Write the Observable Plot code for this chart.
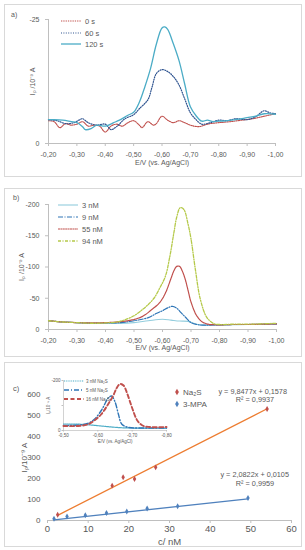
<!DOCTYPE html>
<html><head><meta charset="utf-8">
<script src="https://cdn.jsdelivr.net/npm/d3@7"></script>
<script src="https://cdn.jsdelivr.net/npm/@observablehq/plot@0.6"></script>
<style>
body{margin:0;background:#fff;}
#root{position:relative;width:305px;height:550px;overflow:hidden;font-family:"Liberation Sans",Arial,sans-serif;}
.frame{position:absolute;border:1px solid #d9d9d9;box-sizing:border-box;}
</style></head><body><div id="root"></div>
<script>
// ---------- Panel a data (I in 10^-9 A, E in V) ----------
const aTicksX = [-0.2,-0.3,-0.4,-0.5,-0.6,-0.7,-0.8,-0.9,-1.0];
const aTicksY = [-25, 0];
const aNames = ["0 s", "60 s", "120 s"];
const aE0 = [-0.20,-0.22,-0.24,-0.26,-0.28,-0.30,-0.32,-0.34,-0.36,-0.38,-0.40,-0.42,-0.44,-0.46,-0.48,-0.50,-0.52,-0.53,-0.55,-0.57,-0.58,-0.60,-0.62,-0.64,-0.66,-0.68,-0.70,-0.73,-0.76,-0.80,-0.84,-0.88,-0.92,-0.96,-1.00];
const aI0 = [-4.6,-4.4,-3.2,-4.0,-3.7,-3.9,-4.4,-3.5,-3.7,-3.5,-2.3,-3.5,-3.9,-3.5,-4.2,-4.6,-3.7,-3.2,-4.4,-3.7,-4.0,-5.5,-4.7,-4.2,-4.6,-4.2,-3.7,-3.4,-3.9,-4.2,-4.4,-4.7,-5.0,-5.5,-6.0];
const aE60 = [-0.20,-0.23,-0.26,-0.29,-0.31,-0.32,-0.34,-0.37,-0.40,-0.42,-0.44,-0.47,-0.50,-0.52,-0.55,-0.565,-0.58,-0.60,-0.62,-0.64,-0.66,-0.68,-0.70,-0.72,-0.74,-0.77,-0.80,-0.83,-0.86,-0.90,-0.93,-0.96,-0.98,-1.00];
const aI60 = [-4.8,-4.6,-4.0,-4.2,-4.8,-5.0,-4.2,-3.7,-3.9,-2.8,-3.4,-5.0,-5.8,-7.0,-8.8,-11.4,-14.1,-14.9,-14.5,-13.5,-11.8,-9.0,-6.2,-4.8,-3.9,-4.2,-4.7,-4.6,-5.0,-4.8,-5.4,-6.6,-6.2,-6.0];
const aE120 = [-0.20,-0.22,-0.25,-0.28,-0.30,-0.32,-0.33,-0.35,-0.37,-0.40,-0.43,-0.45,-0.48,-0.50,-0.52,-0.54,-0.56,-0.58,-0.60,-0.61,-0.62,-0.64,-0.66,-0.68,-0.70,-0.72,-0.74,-0.76,-0.78,-0.80,-0.83,-0.86,-0.90,-0.93,-0.96,-1.00];
const aI120 = [-4.8,-4.8,-4.7,-4.4,-4.2,-3.4,-2.8,-3.0,-3.7,-3.5,-4.2,-4.7,-5.7,-6.3,-8.3,-11.5,-15.2,-20.0,-23.3,-23.5,-23.0,-20.1,-16.7,-12.0,-7.4,-5.6,-4.5,-4.7,-4.4,-4.5,-4.6,-4.8,-5.2,-5.5,-6.0,-5.9];

// ---------- Panel b data ----------
const bTicksY = [-200,-150,-100,-50,0];
const bNames = ["3 nM", "9 nM", "55 nM", "94 nM"];
const b3E = [-0.20,-0.25,-0.30,-0.35,-0.40,-0.45,-0.50,-0.55,-0.60,-0.63,-0.66,-0.69,-0.71,-0.73,-0.75,-0.80,-0.85,-0.90,-0.95,-1.00];
const b3I = [-14,-12,-11,-10,-10,-9.8,-11,-14,-16.5,-15,-13.5,-13,-10,-7.5,-7,-7,-7.5,-8,-8,-8.5];
const b9E = [-0.20,-0.25,-0.30,-0.35,-0.40,-0.45,-0.50,-0.55,-0.58,-0.60,-0.62,-0.635,-0.65,-0.665,-0.68,-0.70,-0.72,-0.74,-0.80,-0.85,-0.90,-0.95,-1.00];
const b9I = [-14,-12,-11,-10,-10.5,-11,-14,-19,-26,-30,-35,-37,-34,-27,-20,-11,-8,-7,-7.5,-8,-8,-8.5,-9];
const b55E = [-0.20,-0.25,-0.30,-0.35,-0.40,-0.45,-0.50,-0.53,-0.56,-0.59,-0.61,-0.63,-0.64,-0.65,-0.66,-0.67,-0.68,-0.69,-0.70,-0.72,-0.74,-0.76,-0.80,-0.85,-0.90,-0.95,-1.00];
const b55I = [-14,-12,-11,-10.5,-11,-12.5,-16,-21,-31,-43,-58,-82,-94,-101,-101,-93,-80,-62,-44,-22,-12,-8.5,-7.5,-8,-8,-8.5,-9];
const b94E = [-0.20,-0.25,-0.30,-0.35,-0.40,-0.45,-0.50,-0.53,-0.55,-0.57,-0.59,-0.61,-0.625,-0.64,-0.65,-0.6625,-0.675,-0.69,-0.70,-0.715,-0.733,-0.756,-0.78,-0.80,-0.85,-0.90,-0.95,-1.00];
const b94I = [-14,-12,-11,-10,-10.5,-13,-22,-32,-40,-50,-66,-85,-115,-155,-180,-195,-192,-168,-145,-97,-48,-19,-9.5,-8,-8.5,-8.5,-9,-10];

// ---------- Panel c data ----------
const cTicksX = [0,10,20,30,40,50,60];
const cTicksY = [0,100,200,300,400,500,600];
const naX = [2.5, 15.9, 18.6, 21.4, 26.6, 54.0];
const naY = [27, 166, 206, 198, 253, 531];
const mpaX = [1.6, 4.8, 9.3, 14.5, 19.5, 24.5, 32.0, 49.3];
const mpaY = [8, 19, 25, 36, 43, 57, 68, 107];
const naFit = [9.8477, 0.1578];
const mpaFit = [2.0822, 0.0105];
const naEq = ["y = 9,8477x + 0,1578", "R² = 0,9937"];
const mpaEq = ["y = 2,0822x + 0,0105", "R² = 0,9959"];
const cNames = ["Na₂S", "3-MPA"];

// inset
const iTicksX = [-0.5,-0.6,-0.7,-0.8];
const iTicksY = [-200, -100, 0];
const iNames = ["3 nM Na₂S", "5 nM Na₂S", "16 nM Na₂S"];
const i3E = [-0.50,-0.55,-0.58,-0.61,-0.64,-0.67,-0.70,-0.75,-0.80];
const i3I = [-26,-25,-22,-18,-14,-11,-10,-9,-9];
const i5E = [-0.50,-0.54,-0.57,-0.59,-0.61,-0.62,-0.63,-0.64,-0.65,-0.66,-0.67,-0.69,-0.72,-0.80];
const i5I = [-20,-21,-28,-45,-80,-105,-130,-138,-115,-65,-25,-12,-10,-10];
const i16E = [-0.50,-0.54,-0.57,-0.59,-0.61,-0.63,-0.645,-0.655,-0.665,-0.675,-0.685,-0.70,-0.715,-0.73,-0.75,-0.80];
const i16I = [-18,-18,-24,-40,-65,-105,-140,-170,-186,-180,-150,-90,-40,-20,-14,-14];

// ---------- helpers ----------
const FONT = '"Liberation Sans", Arial, sans-serif';
const AX = "#bfbfbf";
const TXT = "#595959";
const rows = (E, I) => E.map((e, i) => ({E: e, I: I[i]}));
const fmtE = d => d.toFixed(2).replace(".", ",");
const fmtI = d => String(d);
const root = document.getElementById("root");

function frame(top, bottom) {
  const d = document.createElement("div");
  d.className = "frame";
  d.style.left = "4px"; d.style.width = "298px";
  d.style.top = top + "px"; d.style.height = (bottom - top) + "px";
  root.appendChild(d);
}
function place(svg, top) {
  svg.style.position = "absolute";
  svg.style.left = "0px";
  svg.style.top = top + "px";
  root.appendChild(svg);
  return d3.select(svg);
}
function legend(sel, items, x0, x1, tx, ys, fs) {
  const g = sel.append("g").attr("font-size", fs).attr("fill", TXT).attr("font-family", FONT).attr("text-anchor", "start");
  items.forEach((it, i) => {
    g.append("line").attr("x1", x0).attr("x2", x1).attr("y1", ys[i]).attr("y2", ys[i])
      .attr("stroke", it.color).attr("stroke-width", it.w).attr("stroke-dasharray", it.dash || null);
    g.append("text").attr("x", tx).attr("y", ys[i]).attr("dy", "0.35em").attr("text-anchor", "start").text(it.label);
  });
}
function label(sel, x, y, t, fs, anchor) {
  sel.append("text").attr("x", x).attr("y", y).attr("dy", "0.35em").attr("font-size", fs)
    .attr("font-family", FONT).attr("fill", TXT).attr("text-anchor", anchor || "start").text(t);
}

// ---------- Panel a ----------
const aTop = 4, aBot = 177;
frame(aTop, aBot);
const aSty = [
  {color: "#c0504d", w: 1.1, dash: "1.3,1"},
  {color: "#2f5490", w: 1.2, dash: "1,1.4"},
  {color: "#4bacc6", w: 1.3, dash: null}
];
const plotA = Plot.plot({
  width: 305, height: aBot - aTop,
  marginLeft: 48, marginRight: 30, marginTop: 15, marginBottom: 34,
  style: {fontFamily: FONT, fontSize: "7px", color: TXT, background: "transparent"},
  x: {domain: [-0.2, -1.0]},
  y: {domain: [0, -25]},
  marks: [
    Plot.ruleY([0], {stroke: AX}),
    Plot.ruleX([-0.2], {stroke: AX}),
    Plot.axisX({ticks: aTicksX, tickFormat: fmtE, tickSize: 3, stroke: AX, label: "E/V (vs. Ag/AgCl)", labelAnchor: "center", labelArrow: "none", labelOffset: 21}),
    Plot.axisY({ticks: aTicksY, tickFormat: fmtI, tickSize: 3, stroke: AX, label: "Iₚ /10⁻⁹ A", labelAnchor: "center", labelArrow: "none", labelOffset: 18}),
    Plot.line(rows(aE0, aI0), {x: "E", y: "I", stroke: aSty[0].color, strokeWidth: aSty[0].w, strokeDasharray: aSty[0].dash, curve: "catmull-rom"}),
    Plot.line(rows(aE60, aI60), {x: "E", y: "I", stroke: aSty[1].color, strokeWidth: aSty[1].w, strokeDasharray: aSty[1].dash, curve: "catmull-rom"}),
    Plot.line(rows(aE120, aI120), {x: "E", y: "I", stroke: aSty[2].color, strokeWidth: aSty[2].w, curve: "catmull-rom"})
  ]
});
const sA = place(plotA, aTop);
label(sA, 11, 15 - aTop, "a)", 7);
legend(sA, aNames.map((n, i) => ({...aSty[i], label: n})), 61, 81, 85, [21 - aTop, 33 - aTop, 44 - aTop], 7.5);

// ---------- Panel b ----------
const bTop = 188, bBot = 357;
frame(bTop, bBot);
const bSty = [
  {color: "#93cddd", w: 1.1, dash: null},
  {color: "#2e75b6", w: 1.2, dash: "5,1.5,1,1.5"},
  {color: "#c0504d", w: 1.2, dash: "2,0.4"},
  {color: "#b5c94a", w: 1.3, dash: "3,1.5,1,1.5"}
];
const bSeries = [[b3E, b3I], [b9E, b9I], [b55E, b55I], [b94E, b94I]];
const plotB = Plot.plot({
  width: 305, height: bBot - bTop,
  marginLeft: 48, marginRight: 29, marginTop: 16, marginBottom: 28,
  style: {fontFamily: FONT, fontSize: "7px", color: TXT, background: "transparent"},
  x: {domain: [-0.2, -1.0]},
  y: {domain: [0, -200]},
  marks: [
    Plot.ruleY([0], {stroke: AX}),
    Plot.ruleX([-0.2], {stroke: AX}),
    Plot.axisX({ticks: aTicksX, tickFormat: fmtE, tickSize: 3, stroke: AX, label: "E/V (vs. Ag/AgCl)", labelAnchor: "center", labelArrow: "none", labelOffset: 20}),
    Plot.axisY({ticks: bTicksY, tickFormat: fmtI, tickSize: 3, stroke: AX, label: "Iₚ /10⁻⁹ A", labelAnchor: "center", labelArrow: "none", labelOffset: 29}),
    ...bSeries.map((s, i) => Plot.line(rows(s[0], s[1]), {x: "E", y: "I", stroke: bSty[i].color, strokeWidth: bSty[i].w, strokeDasharray: bSty[i].dash, curve: "catmull-rom"}))
  ]
});
const sB = place(plotB, bTop);
label(sB, 13, 198 - bTop, "b)", 7);
legend(sB, bNames.map((n, i) => ({...bSty[i], label: n})), 58, 78, 82, [205 - bTop, 217 - bTop, 229 - bTop, 241 - bTop], 7.5);

// ---------- Panel c ----------
const cTop = 362, cBot = 547;
frame(cTop, cBot);
const naRows = naX.map((x, i) => ({x, y: naY[i]}));
const mpaRows = mpaX.map((x, i) => ({x, y: mpaY[i]}));
const naExt = d3.extent(naX), mpaExt = d3.extent(mpaX);
const naLine = naExt.map(x => ({x, y: naFit[0] * x + naFit[1]}));
const mpaLine = mpaExt.map(x => ({x, y: mpaFit[0] * x + mpaFit[1]}));
const plotC = Plot.plot({
  width: 305, height: cBot - cTop,
  marginLeft: 47, marginRight: 14, marginTop: 32, marginBottom: 27,
  style: {fontFamily: FONT, fontSize: "8px", color: TXT, background: "transparent"},
  x: {domain: [0, 60]},
  y: {domain: [0, 600]},
  marks: [
    Plot.ruleY([0], {stroke: AX}),
    Plot.axisX({ticks: cTicksX, tickSize: 3, tickPadding: 2, stroke: AX, label: "c/ nM", labelAnchor: "center", labelArrow: "none", labelOffset: 24, fontSize: 9.5}),
    Plot.axisY({ticks: cTicksY, tickSize: 0, tickPadding: 7, label: "Iₚ/10⁻⁹ A", labelAnchor: "center", labelArrow: "none", labelOffset: 26, fontSize: 8}),
    Plot.line(naLine, {x: "x", y: "y", stroke: "#ed7d31", strokeWidth: 1.3}),
    Plot.line(mpaLine, {x: "x", y: "y", stroke: "#4f81bd", strokeWidth: 1.3}),
    Plot.dot(naRows, {x: "x", y: "y", symbol: "diamond", r: 1.8, fill: "#c0504d"}),
    Plot.dot(mpaRows, {x: "x", y: "y", symbol: "diamond", r: 1.8, fill: "#4f81bd"})
  ]
});
const sC = place(plotC, cTop);
label(sC, 13, 388 - cTop, "c)", 7.5);
// marker legend
const gl = sC.append("g");
[["#c0504d", 392], ["#4f81bd", 404]].forEach(([c, y], i) => {
  gl.append("path").attr("d", d3.symbol(d3.symbolDiamond, 12)()).attr("transform", `translate(177,${y - cTop})`).attr("fill", c);
  label(gl, 183, y - cTop, cNames[i], 8);
});
label(sC, 287, 391 - cTop, naEq[0], 7.3, "end");
label(sC, 255, 399 - cTop, naEq[1], 7.3, "middle");
label(sC, 289, 474 - cTop, mpaEq[0], 7.3, "end");
label(sC, 255, 483 - cTop, mpaEq[1], 7.3, "middle");

// ---------- Inset ----------
const iTop = 362, iBot = 452;
const iSty = [
  {color: "#4bacc6", w: 1.2, dash: "1,0.8"},
  {color: "#2e75b6", w: 1.4, dash: "5,2,1,2"},
  {color: "#c0504d", w: 1.9, dash: "4,2.5"}
];
const iSeries = [[i3E, i3I], [i5E, i5I], [i16E, i16I]];
const plotI = Plot.plot({
  width: 305, height: iBot - iTop,
  marginLeft: 63, marginRight: 139, marginTop: 18, marginBottom: 22,
  style: {fontFamily: FONT, fontSize: "4.5px", color: TXT, background: "transparent"},
  x: {domain: [-0.5, -0.8]},
  y: {domain: [0, -200]},
  marks: [
    Plot.ruleY([0], {stroke: AX, strokeWidth: 0.7}),
    Plot.ruleX([-0.5], {stroke: AX, strokeWidth: 0.7}),
    Plot.axisX({ticks: iTicksX, tickFormat: fmtE, tickSize: 1.5, tickPadding: 1.5, stroke: AX, label: "E/V (vs. Ag/AgCl)", labelAnchor: "center", labelArrow: "none", labelOffset: 12}),
    Plot.axisY({ticks: iTicksY, tickFormat: d => (d === -100 ? "" : String(d)), tickSize: 1.5, tickPadding: 1.5, stroke: AX, label: "Iₚ/10⁻⁹ A", labelAnchor: "center", labelArrow: "none", labelOffset: 17}),
    ...iSeries.map((s, i) => Plot.line(rows(s[0], s[1]), {x: "E", y: "I", stroke: iSty[i].color, strokeWidth: iSty[i].w, strokeDasharray: iSty[i].dash, curve: "catmull-rom"}))
  ]
});
const sI = place(plotI, iTop);
legend(sI, iNames.map((n, i) => ({...iSty[i], label: n})), 64, 84, 86, [381 - iTop, 390 - iTop, 399 - iTop], 4.5);
</script>
</body></html>
